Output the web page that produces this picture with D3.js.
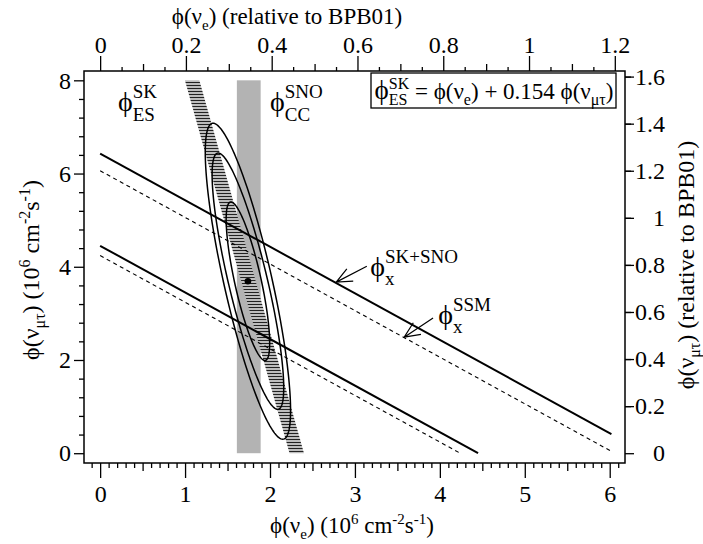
<!DOCTYPE html>
<html>
<head>
<meta charset="utf-8">
<script src="https://cdn.jsdelivr.net/npm/d3@7"></script>
<style>
  body { margin: 0; background: #fff; }
</style>
</head>
<body>
<svg width="703" height="544"></svg>
<script>
const width = 703;
const height = 544;
const bpb01 = 5.05; // SSM 8B flux, 10^6 cm^-2 s^-1
const FONT = '"Liberation Serif", "Times New Roman", serif';
const PHI = 'ϕ';

// SNO CC band (phi_e) and SK ES band (phi_e + 0.154 phi_mutau)
const ccBand = [1.61, 1.89];
const esBand = [2.23, 2.40];
const esCoef = 0.154;

// total flux lines phi_e + phi_mutau = const
const totalSKSNO = [4.45, 6.43];
const totalSSM = [4.24, 6.06];

// best fit and 68/95/99% contours
const bestFit = [1.74, 3.69];
const contourTopDx = [-0.20, -0.35, -0.41];
const contourTopDy = [1.70, 2.75, 3.39];
const contourHalfWidth = [0.16, 0.235, 0.29];

// arrows (tail, tip) in data units
const arrowSKSNO = [[3.14, 4.01], [2.78, 3.67]];
const arrowSSM = [[3.92, 2.90], [3.58, 2.49]];

// ticks
const bottomMajor = [0, 1, 2, 3, 4, 5, 6];
const leftMajor = [0, 2, 4, 6, 8];
const topMajor = [0, 0.2, 0.4, 0.6, 0.8, 1, 1.2];
const rightMajor = [0, 0.2, 0.4, 0.6, 0.8, 1, 1.2, 1.4, 1.6];

const svg = d3.select('svg');

const x = d3.scaleLinear().domain([-0.19, 6.18]).range([84, 625]);
const y = d3.scaleLinear().domain([-0.21, 8.2]).range([463, 71]);
const xT = d3.scaleLinear().domain(x.domain().map(v => v / bpb01)).range(x.range());
const yR = d3.scaleLinear().domain(y.domain().map(v => v / bpb01)).range(y.range());

// hatch pattern for SK band
const defs = svg.append('defs');
const pat = defs.append('pattern')
  .attr('id', 'hatch')
  .attr('patternUnits', 'userSpaceOnUse')
  .attr('width', 10).attr('height', 3);
pat.append('rect').attr('width', 10).attr('height', 3).attr('fill', '#bdbdbd');
pat.append('rect').attr('y', 1).attr('width', 10).attr('height', 1).attr('fill', '#222');

const plot = svg.append('g');

// SNO CC band
plot.append('rect')
  .attr('x', x(ccBand[0]))
  .attr('y', y(8))
  .attr('width', x(ccBand[1]) - x(ccBand[0]))
  .attr('height', y(0) - y(8))
  .attr('fill', '#b3b3b3');

// SK ES band
const esPoly = [[esBand[0], 0], [esBand[1], 0], [esBand[1] - esCoef * 8, 8], [esBand[0] - esCoef * 8, 8]];
plot.append('path')
  .attr('d', d3.line().x(d => x(d[0])).y(d => y(d[1]))(esPoly) + 'Z')
  .attr('fill', 'url(#hatch)');

// total flux lines
const fluxLine = (tot) => [[0, tot], [Math.min(tot, 6.02), tot - Math.min(tot, 6.02)]];
const line = d3.line().x(d => x(d[0])).y(d => y(d[1]));

totalSKSNO.forEach(t => {
  plot.append('path').attr('d', line(fluxLine(t)))
    .attr('stroke', '#000').attr('stroke-width', 2).attr('fill', 'none');
});
totalSSM.forEach(t => {
  plot.append('path').attr('d', line(fluxLine(t)))
    .attr('stroke', '#000').attr('stroke-width', 1.1).attr('fill', 'none')
    .attr('stroke-dasharray', '4,3.5');
});

// contours
contourTopDy.forEach((dy, i) => {
  const pts = d3.range(0, 181).map(k => {
    const t = k / 180 * 2 * Math.PI;
    return [bestFit[0] + contourTopDx[i] * Math.cos(t) + contourHalfWidth[i] * Math.sin(t),
            bestFit[1] + dy * Math.cos(t)];
  });
  plot.append('path').attr('d', line.curve(d3.curveLinearClosed)(pts))
    .attr('stroke', '#000').attr('stroke-width', 1.5).attr('fill', 'none');
});
line.curve(d3.curveLinear);

plot.append('circle')
  .attr('cx', x(bestFit[0])).attr('cy', y(bestFit[1])).attr('r', 3.3).attr('fill', '#000');

// arrows
function arrow(a) {
  const x0 = x(a[0][0]), y0 = y(a[0][1]), x1 = x(a[1][0]), y1 = y(a[1][1]);
  const ang = Math.atan2(y0 - y1, x0 - x1);
  const L = 17, sp = 0.42;
  const p = `M${x0},${y0}L${x1},${y1}` +
    `M${x1 + L * Math.cos(ang - sp)},${y1 + L * Math.sin(ang - sp)}L${x1},${y1}` +
    `L${x1 + L * Math.cos(ang + sp)},${y1 + L * Math.sin(ang + sp)}`;
  plot.append('path').attr('d', p).attr('stroke', '#000').attr('stroke-width', 1.2).attr('fill', 'none');
}
arrow(arrowSKSNO);
arrow(arrowSSM);

// rich text helper: pieces placed one after another
function txt(g, x0, y0, size, s) {
  return g.append('text').attr('x', x0).attr('y', y0)
    .style('font-family', FONT).style('font-size', size + 'px').style('white-space', 'pre')
    .attr('fill', '#000').text(s);
}
function compose(g, x0, y0, pieces) {
  let cx = x0;
  pieces.forEach(p => {
    if (p.sup !== undefined) {
      const a = txt(g, cx, y0 + p.supDy, p.size, p.sup);
      const b = txt(g, cx, y0 + p.subDy, p.size, p.sub);
      cx += Math.max(a.node().getComputedTextLength(), b.node().getComputedTextLength());
    } else {
      const a = txt(g, cx, y0 + (p.dy || 0), p.size, p.t);
      cx += a.node().getComputedTextLength();
    }
  });
  return cx - x0;
}

// annotations on the plot
const phiBig = 28, supSz = 19;
compose(plot, x(0.21), y(7.34), [{t: PHI, size: phiBig}, {sup: 'SK', sub: 'ES', size: supSz, supDy: -13, subDy: 10}]);
compose(plot, x(2.0), y(7.34), [{t: PHI, size: phiBig}, {sup: 'SNO', sub: 'CC', size: supSz, supDy: -13, subDy: 10}]);
compose(plot, x(3.18), y(3.80), [{t: PHI, size: phiBig}, {sup: 'SK+SNO', sub: 'x', size: supSz, supDy: -13, subDy: 9}]);
compose(plot, x(3.98), y(2.77), [{t: PHI, size: phiBig}, {sup: 'SSM', sub: 'x', size: supSz, supDy: -13, subDy: 9}]);

// equation box
const box = svg.append('g');
box.append('rect').attr('x', 371).attr('y', 73).attr('width', 245).attr('height', 35)
  .attr('fill', '#fff').attr('stroke', '#000').attr('stroke-width', 1.3);
const eqG = box.append('g');
const mainSz = 23, smallSz = 16;
const eqW = compose(eqG, 0, 0, [
  {t: PHI, size: 27},
  {sup: 'SK', sub: 'ES', size: smallSz, supDy: -10, subDy: 6},
  {t: ' = ' + PHI + '(ν', size: mainSz},
  {t: 'e', size: smallSz, dy: 6},
  {t: ') + 0.154 ' + PHI + '(ν', size: mainSz},
  {t: 'μτ', size: smallSz, dy: 6},
  {t: ')', size: mainSz}
]);
eqG.attr('transform', `translate(${494 - eqW / 2},99)`);

// frame
svg.append('rect').attr('x', 84).attr('y', 71).attr('width', 541).attr('height', 392)
  .attr('fill', 'none').attr('stroke', '#000').attr('stroke-width', 1.5);

// axes
const tickSz = 24;
const fmt = d => String(+d.toFixed(1));
function styleAxis(g) {
  g.attr('font-family', null).attr('font-size', null);
  g.select('.domain').remove();
  g.selectAll('line').attr('stroke', '#000').attr('stroke-width', 1.3);
  g.selectAll('text').style('font-family', FONT).style('font-size', tickSz + 'px');
}
const minorVals = (lo, hi, step, skip) => d3.range(Math.round(lo / step), Math.round(hi / step) + 1)
  .map(i => +(i * step).toFixed(3)).filter(v => !skip(v));

// bottom
svg.append('g').attr('transform', 'translate(0,463)')
  .call(d3.axisBottom(x).tickValues(bottomMajor).tickSize(15).tickPadding(7).tickFormat(fmt)).call(styleAxis);
svg.append('g').attr('transform', 'translate(0,463)')
  .call(d3.axisBottom(x).tickValues(minorVals(-0.1, 6.1, 0.1, v => Number.isInteger(v))).tickSize(5).tickFormat(''))
  .call(styleAxis)
  .selectAll('.tick line').attr('y2', d => Math.abs(d % 1 - 0.5) < 1e-6 ? 8 : 5);

// left
svg.append('g').attr('transform', 'translate(84,0)')
  .call(d3.axisLeft(y).tickValues(leftMajor).tickSize(10).tickPadding(3).tickFormat(fmt)).call(styleAxis);
svg.append('g').attr('transform', 'translate(84,0)')
  .call(d3.axisLeft(y).tickValues(minorVals(0, 8, 0.4, v => Math.abs(v / 2 - Math.round(v / 2)) < 1e-6)).tickSize(5).tickFormat(''))
  .call(styleAxis);

// top
svg.append('g').attr('transform', 'translate(0,71)')
  .call(d3.axisTop(xT).tickValues(topMajor).tickSize(15).tickPadding(3).tickFormat(fmt)).call(styleAxis);
svg.append('g').attr('transform', 'translate(0,71)')
  .call(d3.axisTop(xT).tickValues(minorVals(0, 1.2, 0.05, v => Math.abs(v / 0.2 - Math.round(v / 0.2)) < 1e-6)).tickSize(4).tickFormat(''))
  .call(styleAxis)
  .selectAll('.tick line').attr('y2', d => Math.abs(d / 0.1 - Math.round(d / 0.1)) < 1e-6 ? -7 : -4);

// right
const rAxis = svg.append('g').attr('transform', 'translate(625,0)')
  .call(d3.axisRight(yR).tickValues(rightMajor).tickSize(9).tickPadding(0).tickFormat(fmt)).call(styleAxis);
rAxis.selectAll('text').attr('text-anchor', 'end').attr('x', 40);
svg.append('g').attr('transform', 'translate(625,0)')
  .call(d3.axisRight(yR).tickValues(minorVals(0.1, 1.5, 0.2, () => false)).tickSize(6).tickFormat(''))
  .call(styleAxis);

// axis titles
function title(pieces, cx, cy, rotate) {
  const g = svg.append('g');
  const w = compose(g, 0, 0, pieces);
  if (rotate) g.attr('transform', `translate(${cx},${cy + w / 2}) rotate(-90)`);
  else g.attr('transform', `translate(${cx - w / 2},${cy})`);
}
const units = (sz, sub) => [
  {t: ') (10', size: sz},
  {t: '6', size: sub, dy: -9},
  {t: ' cm', size: sz},
  {t: '-2', size: sub, dy: -9},
  {t: 's', size: sz},
  {t: '-1', size: sub, dy: -9},
  {t: ')', size: sz}
];
title([{t: PHI + '(ν', size: 23}, {t: 'e', size: 15, dy: 6}, {t: ') (relative to BPB01)', size: 23}], 287, 24, false);
title([{t: PHI + '(ν', size: 23}, {t: 'e', size: 15, dy: 6}].concat(units(23, 15)), 352, 533, false);
title([{t: PHI + '(ν', size: 24}, {t: 'μτ', size: 16, dy: 6}].concat(units(24, 16)), 39, 270, true);
title([{t: PHI + '(ν', size: 24}, {t: 'μτ', size: 16, dy: 6}, {t: ') (relative to BPB01)', size: 24}], 694, 265, true);
</script>
</body>
</html>
